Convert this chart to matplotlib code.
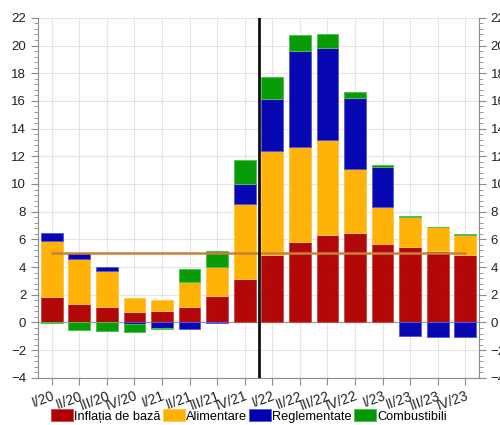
import matplotlib
matplotlib.use("Agg")
import matplotlib.pyplot as plt
import matplotlib.transforms as mtransforms
import numpy as np
from matplotlib.ticker import MultipleLocator
from matplotlib.patches import Patch

plt.rcParams['font.family'] = ['Liberation Sans', 'DejaVu Sans']

quarters = ["I/20", "II/20", "III/20", "IV/20", "I/21", "II/21", "III/21", "IV/21",
            "I/22", "II/22", "III/22", "IV/22", "I/23", "II/23", "III/23", "IV/23"]

inflatia_baza = [1.86, 1.34, 1.14, 0.78, 0.83, 1.14, 1.91, 3.12,
                 4.87, 5.79, 6.30, 6.44, 5.67, 5.47, 5.16, 4.85]
alimentare = [4.04, 3.22, 2.60, 0.99, 0.77, 1.81, 2.12, 5.44,
              7.53, 6.88, 6.85, 4.66, 2.65, 2.15, 1.71, 1.47]
reglementate = [0.54, 0.44, 0.26, -0.11, -0.42, -0.47, -0.05, 1.42,
                3.74, 6.96, 6.67, 5.10, 2.93, -1.00, -1.02, -1.02]
combustibili = [-0.05, -0.54, -0.61, -0.55, -0.07, 0.91, 1.13, 1.78,
                1.56, 1.15, 0.98, 0.44, 0.15, 0.05, 0.04, 0.04]

target_level = 5.0

series = [
    ("Inflația de bază", inflatia_baza, "#b00000", "#d04a4a"),
    ("Alimentare", alimentare, "#ffb000", "#ffc84a"),
    ("Reglementate", reglementate, "#0000b0", "#5a5ad8"),
    ("Combustibili", combustibili, "#009900", "#4fc04f"),
]

fig = plt.figure(figsize=(5.0, 4.25), dpi=100)
ax = fig.add_axes([0.076, 0.111, 0.882, 0.847])

x = np.arange(len(quarters))
pos_base = np.zeros(len(quarters))
neg_base = np.zeros(len(quarters))
width = 0.79
for name, vals, col, edge in series:
    v = np.array(vals, dtype=float)
    bottoms = np.where(v >= 0, pos_base, neg_base)
    ax.bar(x, v, width=width, bottom=bottoms, color=col, edgecolor=edge,
           linewidth=0.7, alpha=0.97, zorder=2, label=name)
    pos_base = pos_base + np.where(v >= 0, v, 0)
    neg_base = neg_base + np.where(v < 0, v, 0)

# target line across the whole period
ax.plot([x[0], x[-1]], [target_level, target_level], color="#c8803c", lw=1.8, zorder=4)

# separator between 2021 and 2022
ax.axvline(7.5, color="#111111", lw=2.0, zorder=5)

ax.axhline(0, color="#9a9a9a", lw=0.8, zorder=1.5)

ax.set_xlim(-0.5, 15.5)
ax.set_ylim(-4, 22)
ax.yaxis.set_major_locator(MultipleLocator(2))
ax.yaxis.set_minor_locator(MultipleLocator(0.4))
ax.set_xticks(x)
ax.set_xticklabels(quarters, rotation=20, ha="right", rotation_mode="anchor", fontsize=10,
                   color="#222222")
shift = mtransforms.ScaledTranslation(4 / 100, -3 / 100, fig.dpi_scale_trans)
for lbl in ax.get_xticklabels():
    lbl.set_transform(lbl.get_transform() + shift)

ax.grid(True, which="major", color="#e4e4e4", lw=0.8, zorder=0)
ax.set_axisbelow(True)

ax.spines["top"].set_visible(False)
for s in ["left", "right", "bottom"]:
    ax.spines[s].set_color("#8a8a8a")
    ax.spines[s].set_linewidth(0.8)

ax.tick_params(axis="y", which="both", left=True, right=True, labelleft=True,
               labelright=True, colors="#8a8a8a", labelcolor="#222222", labelsize=9.5)
ax.tick_params(axis="y", which="major", length=5, width=0.8)
ax.tick_params(axis="y", which="minor", length=3, width=0.6)
ax.tick_params(axis="x", length=5, width=0.8, colors="#8a8a8a", labelcolor="#222222", pad=3)

handles = [Patch(facecolor=c, edgecolor=e, linewidth=0.7, label=n) for n, _, c, e in series]
fig.legend(handles=handles, loc="center", bbox_to_anchor=(0.498, 1 - 416 / 425), ncol=4,
           frameon=False, fontsize=9.2, handlelength=1.7, handleheight=1.0,
           handletextpad=0.12, columnspacing=0.15, borderpad=0.0)

fig.savefig("out.png", dpi=100)
